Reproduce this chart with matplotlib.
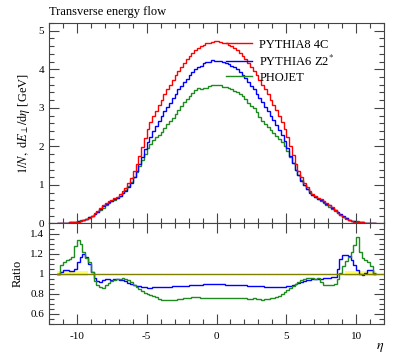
import numpy as np
import matplotlib
matplotlib.use("Agg")
import matplotlib.pyplot as plt
from matplotlib.ticker import MultipleLocator

plt.rcParams['font.family'] = ['Liberation Serif', 'DejaVu Serif']
plt.rcParams['mathtext.fontset'] = 'stix'
plt.rcParams['axes.unicode_minus'] = False

# eta binning, 0.2 wide bins
eta_edges = np.linspace(-11.4, 11.4, 115)

# PYTHIA8 4C, 1/N dE_T/deta [GeV] (reference)
pythia8 = [
    0.01, 0.01, 0.02, 0.02, 0.03, 0.03, 0.04, 0.05, 0.06, 0.08,
    0.11, 0.15, 0.20, 0.26, 0.33, 0.41, 0.48, 0.53, 0.58, 0.62,
    0.66, 0.70, 0.76, 0.83, 0.92, 1.04, 1.18, 1.35, 1.54, 1.76,
    1.98, 2.22, 2.45, 2.62, 2.78, 2.93, 3.07, 3.21, 3.35, 3.48,
    3.60, 3.72, 3.84, 3.96, 4.06, 4.16, 4.26, 4.35, 4.43, 4.50,
    4.55, 4.60, 4.64, 4.67, 4.69, 4.71, 4.72,
    4.72, 4.71, 4.69, 4.67, 4.64, 4.60, 4.55, 4.50, 4.43, 4.35,
    4.26, 4.16, 4.06, 3.96, 3.84, 3.72, 3.60, 3.48, 3.35, 3.21,
    3.08, 2.94, 2.80, 2.64, 2.46, 2.24, 2.00, 1.77, 1.55, 1.37,
    1.20, 1.06, 0.94, 0.84, 0.77, 0.71, 0.67, 0.63, 0.59, 0.54,
    0.49, 0.42, 0.35, 0.28, 0.22, 0.16, 0.12, 0.08, 0.06, 0.05,
    0.04, 0.03, 0.03, 0.02, 0.02, 0.01, 0.01,
]

# PYTHIA6 Z2* / PYTHIA8 4C
ratio_z2 = [
    1.00, 1.02, 1.04, 1.04, 1.03, 1.03, 1.05, 1.12, 1.17, 1.20,
    1.17, 1.10, 1.02, 0.96, 0.93, 0.92, 0.94, 0.95, 0.95, 0.94,
    0.95, 0.95, 0.94, 0.94, 0.93, 0.91, 0.90, 0.89, 0.88, 0.875,
    0.87, 0.865, 0.86, 0.86, 0.865, 0.865, 0.87, 0.87, 0.87, 0.87,
    0.87, 0.875, 0.875, 0.88, 0.88, 0.88, 0.88, 0.885, 0.885, 0.89,
    0.89, 0.89, 0.895, 0.895, 0.895, 0.90, 0.895,
    0.895, 0.895, 0.895, 0.89, 0.89, 0.89, 0.89, 0.89, 0.885, 0.885,
    0.885, 0.88, 0.88, 0.88, 0.875, 0.875, 0.875, 0.87, 0.87, 0.87,
    0.87, 0.865, 0.865, 0.87, 0.87, 0.875, 0.88, 0.89, 0.90, 0.91,
    0.92, 0.93, 0.94, 0.94, 0.95, 0.95, 0.95, 0.95, 0.955, 0.96,
    0.96, 0.97, 0.97, 1.05, 1.15, 1.19, 1.19, 1.18, 1.14, 1.09,
    1.04, 1.00, 0.99, 1.01, 1.04, 1.04, 1.00,
]

# PHOJET / PYTHIA8 4C
ratio_phojet = [
    1.00, 1.09, 1.12, 1.14, 1.15, 1.17, 1.28, 1.34, 1.30, 1.22,
    1.16, 1.12, 1.02, 0.93, 0.89, 0.87, 0.86, 0.89, 0.91, 0.93,
    0.94, 0.95, 0.95, 0.96, 0.95, 0.94, 0.92, 0.89, 0.87, 0.85,
    0.83, 0.81, 0.80, 0.79, 0.78, 0.77, 0.75, 0.74, 0.74, 0.74,
    0.74, 0.735, 0.74, 0.745, 0.75, 0.755, 0.76, 0.76, 0.765, 0.77,
    0.77, 0.76, 0.76, 0.755, 0.76, 0.76, 0.76,
    0.76, 0.76, 0.755, 0.76, 0.76, 0.76, 0.755, 0.755, 0.76, 0.76,
    0.755, 0.75, 0.75, 0.755, 0.75, 0.745, 0.74, 0.745, 0.75, 0.755,
    0.76, 0.77, 0.78, 0.80, 0.82, 0.84, 0.86, 0.88, 0.90, 0.92,
    0.94, 0.95, 0.96, 0.96, 0.96, 0.95, 0.96, 0.92, 0.89, 0.885,
    0.885, 0.885, 0.90, 0.95, 1.01, 1.08, 1.13, 1.17, 1.22, 1.29,
    1.37, 1.22, 1.16, 1.14, 1.12, 1.08, 1.01,
]

labels = ['PYTHIA8 4C', 'PYTHIA6 Z2$^{*}$', 'PHOJET']
colors = ['#ff0000', '#0000ff', '#1f8a1f']

main_yticks = [0, 1, 2, 3, 4, 5]
ratio_yticks = [0.6, 0.8, 1.0, 1.2, 1.4]
ratio_ylabels = ['0.6', '0.8', '1', '1.2', '1.4']
xticks = [-10, -5, 0, 5, 10]

p8 = np.array(pythia8)
z2 = p8 * np.array(ratio_z2)
pho = p8 * np.array(ratio_phojet)

fig = plt.figure(figsize=(3.97, 3.58), dpi=100)
ax = fig.add_axes([0.1234, 0.3757, 0.8439, 0.5601])
axr = fig.add_axes([0.1234, 0.095, 0.8439, 0.2807])

for a in (ax, axr):
    a.set_xlim(-12, 12)
    a.xaxis.set_major_locator(MultipleLocator(5))
    a.xaxis.set_minor_locator(MultipleLocator(1))
    a.tick_params(which='both', direction='in', top=True, right=True,
                  colors='#444444', labelcolor='black', labelsize=8)
    a.tick_params(which='major', length=7, width=0.8)
    a.tick_params(which='minor', length=3.5, width=0.8)
    a.tick_params(axis='x', pad=6)
    for s in a.spines.values():
        s.set_color('#444444')
        s.set_linewidth(0.8)

ax.stairs(pho, eta_edges, baseline=None, color=colors[2], lw=1.0, label=labels[2])
ax.stairs(z2, eta_edges, baseline=None, color=colors[1], lw=1.0, label=labels[1])
ax.stairs(p8, eta_edges, baseline=None, color=colors[0], lw=1.0, label=labels[0])
ax.set_ylim(0, 5.2)
ax.set_yticks(main_yticks)
ax.yaxis.set_minor_locator(MultipleLocator(0.2))
ax.tick_params(labelbottom=False)
ax.set_ylabel(r'$1/N,\ \mathrm{d}E_{\perp}/\mathrm{d}\eta$ [GeV]', fontsize=9, labelpad=5)
ax.set_title('Transverse energy flow', loc='left', fontsize=9, pad=6)

h, l = ax.get_legend_handles_labels()
ax.legend(h[::-1], l[::-1], loc='upper left', bbox_to_anchor=(0.505, 0.96),
          frameon=False, fontsize=9, handlelength=2.1, handletextpad=0.6,
          labelspacing=0.25, borderaxespad=0.2)

# ratio panel
axr.fill_between([-11.4, -9.2], 0.975, 1.025, color='#ffff60', lw=0)
axr.fill_between([9.2, 11.4], 0.975, 1.025, color='#ffff60', lw=0)
axr.plot([-11.4, 12], [1, 1], color='#808000', lw=1.0)
axr.stairs(ratio_z2, eta_edges, baseline=None, color=colors[1], lw=1.0)
axr.stairs(ratio_phojet, eta_edges, baseline=None, color=colors[2], lw=1.0)
axr.set_ylim(0.5, 1.5)
axr.set_yticks(ratio_yticks)
axr.set_yticklabels(ratio_ylabels)
axr.yaxis.set_minor_locator(MultipleLocator(0.05))
axr.set_xticks(xticks)
axr.set_ylabel('Ratio', fontsize=9, labelpad=5)
axr.set_xlabel(r'$\eta$', fontsize=10, loc='right', labelpad=0)

fig.savefig('out.png', dpi=100)
